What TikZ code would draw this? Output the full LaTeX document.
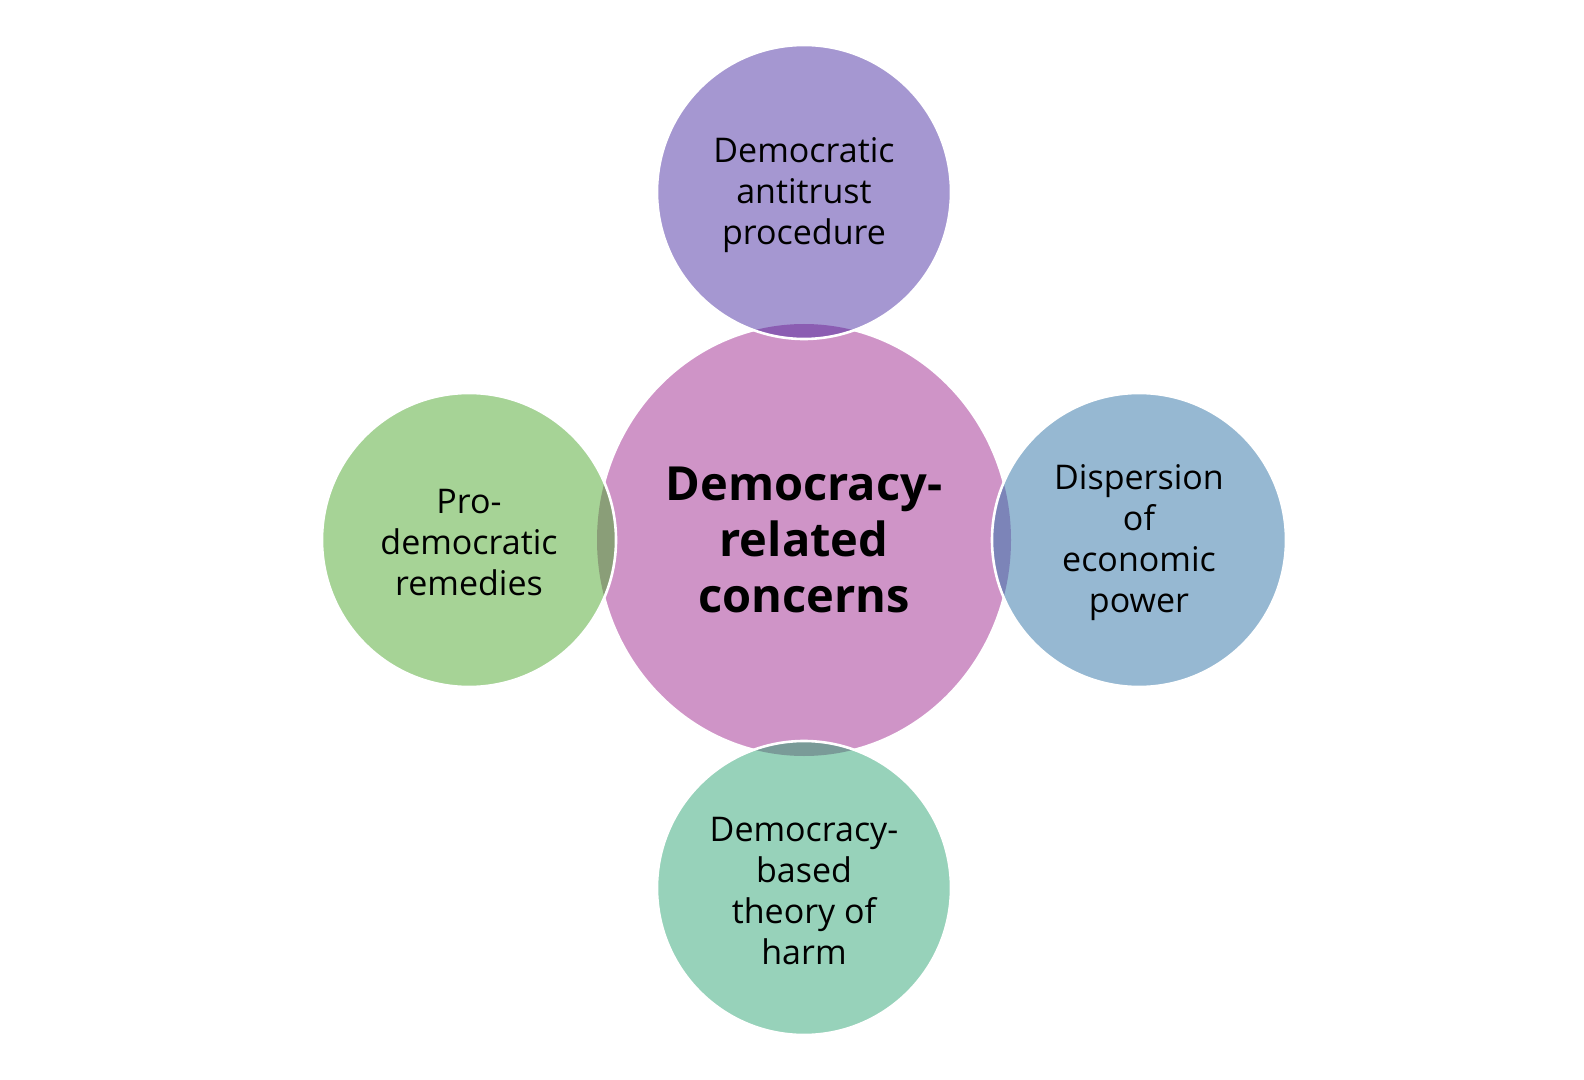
\documentclass[tikz,border=0pt]{standalone}
\usepackage{fontspec}
\setmainfont{Open Sans}
\usetikzlibrary{shapes.geometric}
\definecolor{cpink}{HTML}{CF94C7}
\definecolor{cpurple}{HTML}{A597D1}
\definecolor{cgreen}{HTML}{A6D396}
\definecolor{cblue}{HTML}{96B8D2}
\definecolor{cteal}{HTML}{97D2BA}
\definecolor{ltop}{HTML}{8B5DB2}
\definecolor{lleft}{HTML}{8A9E78}
\definecolor{lright}{HTML}{7C84B8}
\definecolor{lbottom}{HTML}{7A9B98}
\begin{document}
\begin{tikzpicture}[x=0.5pt,y=-0.5pt,
  bubble/.style={circle, minimum size=147pt, inner sep=0pt},
  btext/.style={align=center, inner sep=0pt, yshift=-1.5pt,
    font=\fontsize{17}{20.5}\selectfont},
  hub/.style={ellipse, minimum width=207pt, minimum height=216pt, inner sep=0pt,
    align=center, fill=cpink, draw=white, line width=1pt,
    font=\bfseries\fontsize{23.5}{28}\selectfont},
  rim/.style={draw=white, line width=1.3pt}]
\useasboundingbox (0,0) rectangle (1584,1080);
\node[hub] (hub) at (804,540) {Democracy-\\related\\concerns};
\node[bubble, fill=cpurple] (top) at (804,192) {};
\node[bubble, fill=cgreen] (left) at (469,540) {};
\node[bubble, fill=cblue] (right) at (1139,540) {};
\node[bubble, fill=cteal] (bottom) at (804,888) {};
\begin{scope}
  \clip (hub.center) ellipse [x radius=103.5pt, y radius=108pt];
  \fill[ltop] (top.center) circle [radius=73.5pt];
  \fill[lleft] (left.center) circle [radius=73.5pt];
  \fill[lright] (right.center) circle [radius=73.5pt];
  \fill[lbottom] (bottom.center) circle [radius=73.5pt];
\end{scope}
\foreach \n in {top,left,right,bottom}
  \draw[rim] (\n.center) circle [radius=73.5pt];
\node[btext] (toptext) at (top.center) {Democratic\\antitrust\\procedure};
\node[btext] (lefttext) at (left.center) {Pro-\\democratic\\remedies};
\node[btext] (righttext) at (right.center) {Dispersion\\of\\economic\\power};
\node[btext] (bottomtext) at (bottom.center) {Democracy-\\based\\theory of\\harm};
\end{tikzpicture}
\end{document}
